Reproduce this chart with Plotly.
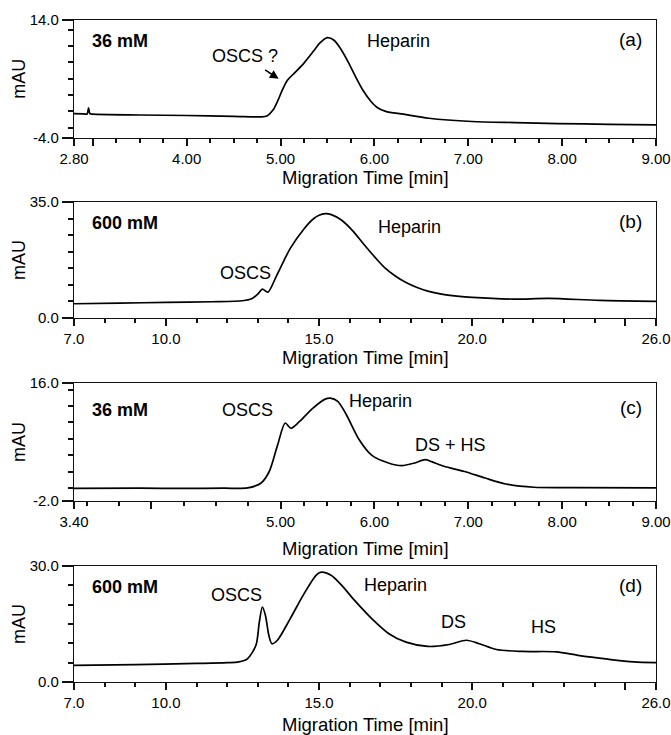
import plotly.graph_objects as go

# ---------------- data ----------------
# (a) 36 mM
a_time = [2.80, 2.90, 2.94, 2.955, 2.97, 3.00, 3.50, 4.00, 4.50, 4.80, 4.86, 4.92, 4.97, 5.02, 5.07,
          5.15, 5.25, 5.35, 5.42, 5.50, 5.57, 5.64, 5.72, 5.80, 5.88, 5.96, 6.03, 6.12, 6.31, 6.58,
          7.04, 7.50, 7.95, 8.50, 9.00]
a_mau = [-0.35, -0.38, -0.40, 0.55, -0.35, -0.42, -0.55, -0.63, -0.75, -0.84, -0.65, 0.2, 1.6, 3.3, 4.7,
         5.9, 7.4, 9.2, 10.5, 11.3, 10.9, 9.6, 7.6, 5.3, 3.2, 1.6, 0.6, 0.0, -0.43, -1.05,
         -1.55, -1.72, -1.86, -1.98, -2.06]

# (b) 600 mM
b_time = [7.0, 8.5, 10.0, 11.5, 12.5, 12.8, 13.0, 13.15, 13.33, 13.6, 14.06, 14.5, 14.8, 15.0, 15.2,
          15.4, 15.74, 16.1, 16.44, 16.8, 17.14, 17.5, 17.84, 18.2, 18.55, 19.0, 19.5, 20.0, 21.35,
          22.5, 24.15, 26.0]
b_mau = [4.3, 4.5, 4.7, 4.9, 5.2, 5.8, 7.2, 8.7, 7.8, 12.5, 21.0, 26.8, 29.8, 31.0, 31.5,
         31.2, 29.5, 26.3, 22.5, 18.6, 15.2, 12.6, 10.7, 9.2, 8.1, 7.2, 6.6, 6.2, 5.7,
         5.9, 5.3, 5.0]

# (c) 36 mM
c_time = [2.80, 3.50, 4.00, 4.40, 4.65, 4.79, 4.88, 4.97, 5.05, 5.11, 5.20, 5.34, 5.47, 5.53, 5.61,
          5.70, 5.84, 5.97, 6.15, 6.29, 6.43, 6.54, 6.61, 6.74, 6.96, 7.18, 7.40, 7.70, 8.16, 9.00]
c_mau = [-0.06, -0.05, -0.08, -0.05, 0.0, 0.7, 2.5, 6.6, 9.9, 9.1, 10.1, 12.1, 13.5, 13.7, 13.2,
         11.2, 7.3, 5.0, 3.8, 3.4, 3.8, 4.3, 4.0, 3.3, 2.5, 1.5, 0.6, 0.1, 0.05, 0.0]

# (d) 600 mM
d_time = [7.0, 9.0, 11.0, 12.0, 12.38, 12.66, 12.94, 13.05, 13.15, 13.25, 13.36, 13.46, 13.64, 14.06,
          14.48, 14.9, 15.07, 15.39, 15.74, 16.16, 16.72, 17.28, 17.84, 18.55, 19.25, 19.81, 20.23,
          20.79, 21.63, 22.75, 23.45, 24.43, 25.27, 26.0]
d_mau = [4.3, 4.5, 4.8, 5.0, 5.2, 6.0, 9.5, 15.5, 19.4, 17.2, 12.1, 9.9, 10.8, 16.4,
         22.4, 27.6, 28.4, 27.6, 25.0, 21.1, 16.4, 12.5, 10.3, 9.2, 9.7, 10.8, 9.9,
         8.4, 7.9, 7.8, 6.9, 5.9, 5.2, 5.0]

# tick labels
a_ticks = [2.8, 3.0, 4.0, 5.0, 6.0, 7.0, 8.0, 9.0]
a_ticktext = ["2.80", "", "4.00", "5.00", "6.00", "7.00", "8.00", "9.00"]
bd_ticks = [7.0, 10.0, 15.0, 20.0, 25.0, 26.0]
bd_ticktext = ["7.0", "10.0", "15.0", "20.0", "", "26.0"]
c_ticks = [2.8, 3.625, 5.0, 6.0, 7.0, 8.0, 9.0]
c_ticktext = ["3.40", "", "5.00", "6.00", "7.00", "8.00", "9.00"]


def minor_vals(lo, hi, step, skip=()):
    out = []
    k = int(round(lo / step)) + 1
    while k * step < hi - 1e-9:
        v = round(k * step, 6)
        if all(abs(v - s) > 1e-6 for s in skip):
            out.append(v)
        k += 1
    return out


a_minor = minor_vals(2.8, 9.0, 0.25, a_ticks)
bd_minor = minor_vals(7.0, 26.0, 1.0, bd_ticks)
c_minor = [2.9375, 3.28125, 3.96875, 4.3125, 4.65625] + minor_vals(5.0, 9.0, 0.25, c_ticks)

panels = [
    dict(x=a_time, y=a_mau, xr=[2.8, 9.0], yr=[-4.0, 14.0], ym=minor_vals(-4.0, 14.0, 2.5),
         xt=a_ticks, xtt=a_ticktext, xm=a_minor, top=20, bot=137.5, conc="36 mM", tag="(a)"),
    dict(x=b_time, y=b_mau, xr=[7.0, 26.0], yr=[0.0, 35.0], ym=minor_vals(0.0, 35.0, 5.0),
         xt=bd_ticks, xtt=bd_ticktext, xm=bd_minor, top=202, bot=318, conc="600 mM", tag="(b)"),
    dict(x=c_time, y=c_mau, xr=[2.8, 9.0], yr=[-2.0, 16.0], ym=minor_vals(-2.0, 16.0, 2.5),
         xt=c_ticks, xtt=c_ticktext, xm=c_minor, top=383, bot=501, conc="36 mM", tag="(c)"),
    dict(x=d_time, y=d_mau, xr=[7.0, 26.0], yr=[0.0, 30.0], ym=minor_vals(0.0, 30.0, 5.0),
         xt=bd_ticks, xtt=bd_ticktext, xm=bd_minor, top=566, bot=682, conc="600 mM", tag="(d)"),
]

W, H = 671, 735
XL, XR = 74, 656
FONT = "Liberation Sans, Arial, sans-serif"
title_y = [177, 358, 548, 724]
INK = "#111111"

fig = go.Figure()
layout = dict(width=W, height=H, margin=dict(l=0, r=0, t=0, b=0, autoexpand=False),
              paper_bgcolor="white", plot_bgcolor="white", showlegend=False,
              font=dict(family=FONT, color="black"))
annotations = []

for i, p in enumerate(panels, start=1):
    xa = "xaxis" if i == 1 else f"xaxis{i}"
    ya = "yaxis" if i == 1 else f"yaxis{i}"
    xr = "x" if i == 1 else f"x{i}"
    yr = "y" if i == 1 else f"y{i}"
    xo = f"x{i + 4}"
    yo = f"y{i + 4}"
    fig.add_trace(go.Scatter(x=p["x"], y=p["y"], mode="lines", xaxis=xr, yaxis=yr,
                             line=dict(color="black", width=1.7, shape="spline", smoothing=0.8),
                             hoverinfo="skip"))
    # transparent helper traces so that the minor-tick overlay axes are drawn
    mid_x = sum(p["xr"]) / 2
    mid_y = sum(p["yr"]) / 2
    fig.add_trace(go.Scatter(x=[mid_x], y=[mid_y], mode="markers", xaxis=xo, yaxis=yr,
                             marker=dict(opacity=0, size=1), hoverinfo="skip"))
    fig.add_trace(go.Scatter(x=[mid_x], y=[mid_y], mode="markers", xaxis=xr, yaxis=yo,
                             marker=dict(opacity=0, size=1), hoverinfo="skip"))
    layout[xa] = dict(domain=[XL / W, XR / W], anchor=yr, range=p["xr"],
                      showline=True, linecolor=INK, linewidth=1.3, mirror=True,
                      showgrid=False, zeroline=False,
                      tickmode="array", tickvals=p["xt"], ticktext=p["xtt"],
                      ticks="outside", ticklen=7, tickwidth=1.6, tickcolor=INK,
                      tickfont=dict(size=15, family=FONT, color="black"))
    layout[f"xaxis{i + 4}"] = dict(overlaying=xr, anchor=yr, side="bottom", range=p["xr"],
                                   showline=False, showgrid=False, zeroline=False,
                                   tickmode="array", tickvals=p["xm"], ticktext=["" for _ in p["xm"]],
                                   ticks="outside", ticklen=4, tickwidth=1.6, tickcolor=INK)
    layout[ya] = dict(domain=[1 - p["bot"] / H, 1 - p["top"] / H], anchor=xr, range=p["yr"],
                      showline=True, linecolor=INK, linewidth=1.3, mirror=True,
                      showgrid=False, zeroline=False,
                      tickmode="array", tickvals=p["yr"], ticktext=[f"{v:.1f}" for v in p["yr"]],
                      ticks="outside", ticklen=11, tickwidth=1.6, tickcolor=INK,
                      tickfont=dict(size=15, family=FONT, color="black"))
    layout[f"yaxis{i + 4}"] = dict(overlaying=yr, anchor=xr, side="left", range=p["yr"],
                                   showline=False, showgrid=False, zeroline=False,
                                   tickmode="array", tickvals=p["ym"], ticktext=["" for _ in p["ym"]],
                                   ticks="outside", ticklen=5, tickwidth=1.6, tickcolor=INK)
    annotations.append(dict(text="Migration Time [min]", x=(XL + XR) / 2 / W, y=1 - title_y[i - 1] / H,
                            xref="paper", yref="paper", showarrow=False,
                            font=dict(size=18.5, family=FONT, color="black"),
                            xanchor="center", yanchor="middle"))
    annotations.append(dict(text="mAU", x=19 / W, y=1 - (p["top"] + p["bot"]) / 2 / H,
                            xref="paper", yref="paper", showarrow=False, textangle=-90,
                            font=dict(size=18, family=FONT, color="black"),
                            xanchor="center", yanchor="middle"))
    dref_x = f"{xr} domain"
    dref_y = f"{yr} domain"
    annotations.append(dict(text=f"<b>{p['conc']}</b>", x=0.027, y=0.82 if i != 3 else 0.775,
                            xref=dref_x, yref=dref_y, showarrow=False, xanchor="left", yanchor="middle",
                            font=dict(size=18, family=FONT, color="black")))
    annotations.append(dict(text=p["tag"], x=0.98, y=0.83 if i != 3 else 0.79,
                            xref=dref_x, yref=dref_y, showarrow=False, xanchor="right", yanchor="middle",
                            font=dict(size=19, family=FONT, color="black")))

peak_labels = [
    (1, "Heparin", 0.557, 0.82), (1, "OSCS ?", 0.294, 0.694),
    (2, "Heparin", 0.577, 0.786), (2, "OSCS", 0.295, 0.386),
    (3, "OSCS", 0.298, 0.773), (3, "Heparin", 0.527, 0.844), (3, "DS + HS", 0.647, 0.476),
    (4, "OSCS", 0.28, 0.747), (4, "Heparin", 0.553, 0.833), (4, "DS", 0.652, 0.517), (4, "HS", 0.807, 0.474),
]
for i, txt, px, py in peak_labels:
    xr = "x" if i == 1 else f"x{i}"
    yr = "y" if i == 1 else f"y{i}"
    annotations.append(dict(text=txt, x=px, y=py, xref=f"{xr} domain", yref=f"{yr} domain",
                            showarrow=False, xanchor="center", yanchor="middle",
                            font=dict(size=18, family=FONT, color="black")))

annotations.append(dict(text="", x=4.98, y=5.0, ax=4.82, ay=6.5, xref="x", yref="y", axref="x", ayref="y",
                        showarrow=True, arrowhead=2, arrowsize=1.1, arrowwidth=1.6, arrowcolor="black"))

layout["annotations"] = annotations
fig.update_layout(**layout)
fig.write_html("out.html")
